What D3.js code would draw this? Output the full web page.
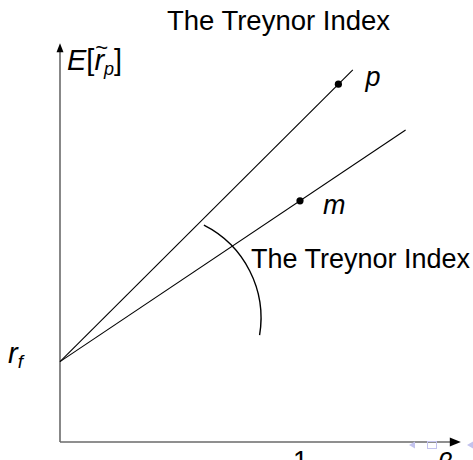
<!DOCTYPE html>
<html>
<head>
<meta charset="utf-8">
<script src="https://cdn.jsdelivr.net/npm/d3@7"></script>
<style>
  html, body { margin: 0; padding: 0; background: #fff; }
  svg { display: block; }
  text { font-family: "Liberation Sans", Arial, sans-serif; fill: #000; }
</style>
</head>
<body>
<svg id="chart" width="473" height="460"></svg>
<script>
// ---- data ----
const portfolios = ["m", "p"];
const betas = [1, 1.16];
const expReturns = [3, 4.45];
const lineEndBetas = [1.44, 1.22];
const riskFree = 1;
const betaTicks = [1];
const title = "The Treynor Index";
const arcLabel = "The Treynor Index";

// ---- layout ----
const svg = d3.select("#chart");
const x = d3.scaleLinear().domain([0, 1]).range([60, 300]);
const y = d3.scaleLinear().domain([0, 5]).range([442, 40]);
const xMax = 1.67, yMax = 4.96;

// title
svg.append("text").attr("x", 278.5).attr("y", 30)
  .attr("text-anchor", "middle").attr("font-size", 27.5).text(title);

// axes
const axisColor = "#6a6a6a";
svg.append("line")
  .attr("x1", x(0)).attr("y1", y(0)).attr("x2", x(xMax) - 8).attr("y2", y(0))
  .attr("stroke", axisColor).attr("stroke-width", 1.6);
svg.append("line")
  .attr("x1", x(0)).attr("y1", y(0)).attr("x2", x(0)).attr("y2", y(yMax) + 7)
  .attr("stroke", axisColor).attr("stroke-width", 1.6);
// arrowheads
const xt = x(xMax), yt = y(yMax);
svg.append("path")
  .attr("d", `M${xt},${y(0)} L${xt - 11},${y(0) - 4.5} L${xt - 11},${y(0) + 4.5} Z`)
  .attr("fill", "#000");
svg.append("path")
  .attr("d", `M${x(0)},${yt} L${x(0) - 3.5},${yt + 9} L${x(0) + 3.5},${yt + 9} Z`)
  .attr("fill", "#000");

// tick labels on beta axis
const xAxis = d3.axisBottom(x).tickValues(betaTicks).tickSize(0).tickPadding(9)
  .tickFormat(d3.format("d"));
const gx = svg.append("g").attr("transform", `translate(0,${y(0)})`).call(xAxis);
gx.select(".domain").remove();
gx.selectAll("text").attr("font-size", 27).attr("font-family", "Liberation Sans, Arial, sans-serif").attr("fill", "#000");

// beta label
svg.append("text").attr("x", 437).attr("y", 472).attr("font-size", 27)
  .attr("font-style", "italic").text("β");

// beamer navigation symbols
const navColor = "#c3c3ee";
svg.append("path").attr("d", "M409,445 L415,441.5 L415,448.5 Z").attr("fill", navColor);
svg.append("rect").attr("x", 427.5).attr("y", 441.5).attr("width", 9).attr("height", 7)
  .attr("fill", "none").attr("stroke", navColor).attr("stroke-width", 1);
svg.append("path").attr("d", "M467,445 L473,441.5 L473,448.5 Z").attr("fill", navColor);

// y-axis label E[r~p]
const yl = svg.append("text").attr("x", 67).attr("y", 70).attr("font-size", 29);
yl.append("tspan").attr("font-style", "italic").text("E");
yl.append("tspan").text("[");
yl.append("tspan").attr("font-style", "italic").text("r");
yl.append("tspan").attr("font-style", "italic").attr("font-size", 18).attr("dy", 5).text("p");
yl.append("tspan").attr("dy", -5).text("]");
// tilde over the r
const ext = yl.node().getExtentOfChar(2);
svg.append("text").attr("x", ext.x + ext.width / 2 + 2.5).attr("y", 55)
  .attr("text-anchor", "middle").attr("font-size", 22).text("~");

// r_f label
const rl = svg.append("text").attr("x", 8).attr("y", 363).attr("font-size", 29);
rl.append("tspan").attr("font-style", "italic").text("r");
rl.append("tspan").attr("font-style", "italic").attr("font-size", 19).attr("dy", 5).text("f");

// lines from risk free
const line = d3.line().x(d => x(d[0])).y(d => y(d[1]));
portfolios.forEach((name, i) => {
  const slope = (expReturns[i] - riskFree) / betas[i];
  const pts = [[0, riskFree], [lineEndBetas[i], riskFree + slope * lineEndBetas[i]]];
  svg.append("path").attr("d", line(pts)).attr("fill", "none")
    .attr("stroke", "#000").attr("stroke-width", 1.1);
  svg.append("circle").attr("cx", x(betas[i])).attr("cy", y(expReturns[i]))
    .attr("r", 3.6).attr("fill", "#000");
});
// point labels
svg.append("text").attr("x", x(betas[0]) + 23).attr("y", y(expReturns[0]) + 13)
  .attr("font-size", 27).attr("font-style", "italic").text(portfolios[0]);
svg.append("text").attr("x", x(betas[1]) + 27).attr("y", y(expReturns[1]) + 2)
  .attr("font-size", 27).attr("font-style", "italic").text(portfolios[1]);

// Treynor index arc annotation
const cx = 157, cy = 318, r = 104;
const a0 = Math.atan2(223 - cy, 205 - cx), a1 = Math.atan2(335 - cy, 259 - cx);
const p = d3.path();
p.moveTo(cx + r * Math.cos(a0), cy + r * Math.sin(a0));
p.arc(cx, cy, r, a0, a1, false);
svg.append("path").attr("d", p.toString()).attr("fill", "none")
  .attr("stroke", "#000").attr("stroke-width", 1.4);
svg.append("text").attr("x", 251).attr("y", 268).attr("font-size", 27).text(arcLabel);
</script>
</body>
</html>
